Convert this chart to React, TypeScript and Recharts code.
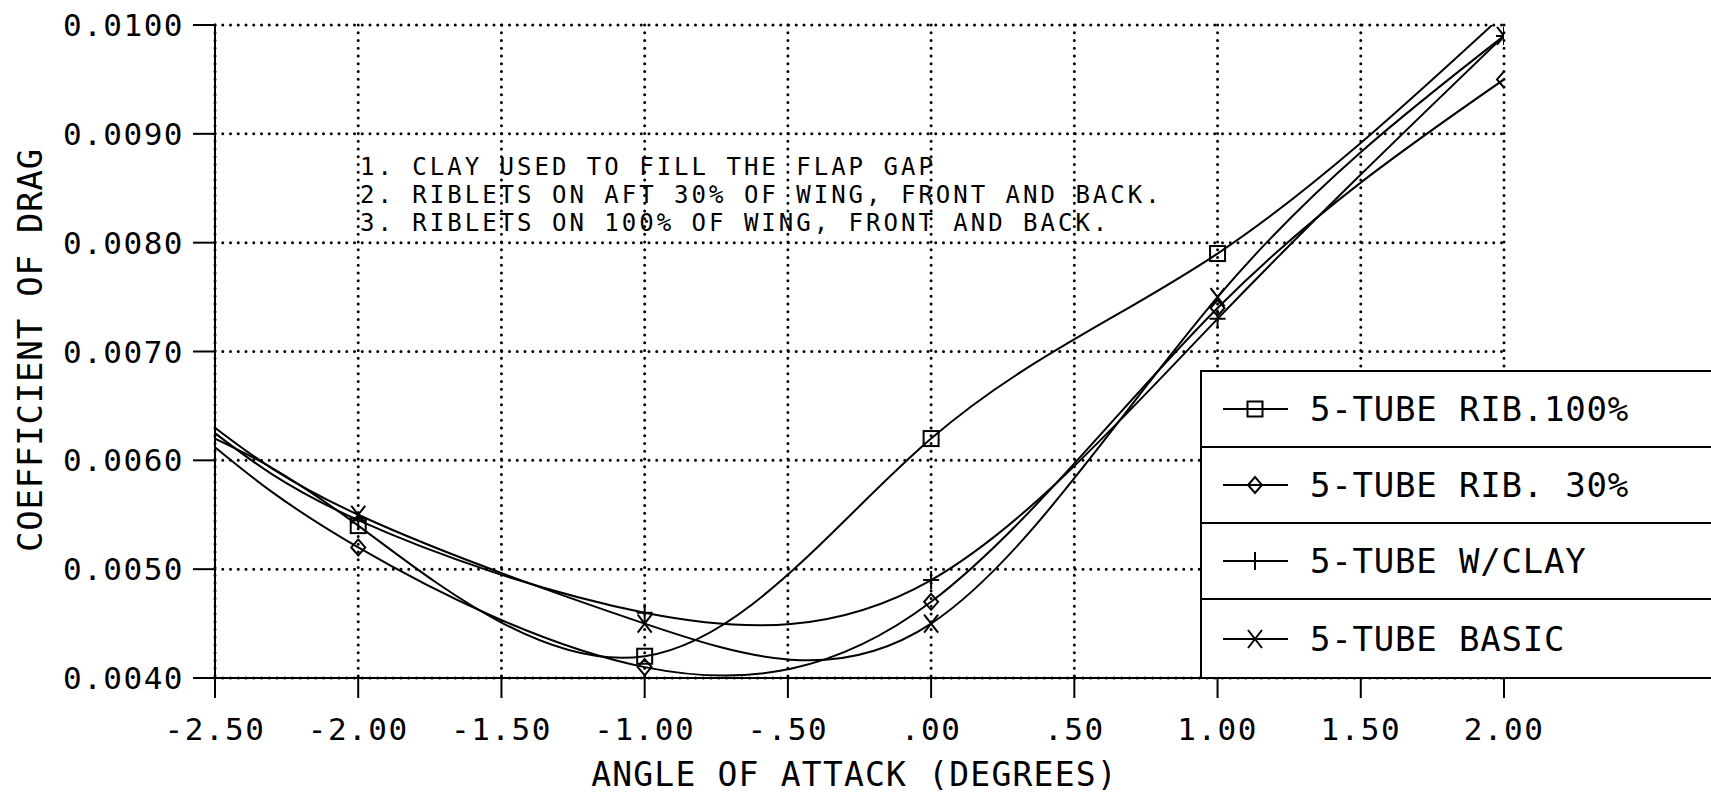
import React from 'react';
import { LineChart, Line, XAxis, YAxis, CartesianGrid } from 'recharts';

const angles = [-2.5, -2, -1, 0, 1, 2];
const rib100 = [0.0062, 0.0054, 0.0042, 0.0062, 0.0079, 0.0101];
const rib30 = [0.00612, 0.0052, 0.0041, 0.0047, 0.0074, 0.0095];
const clay = [0.00625, 0.00545, 0.0046, 0.0049, 0.0073, 0.0099];
const basic = [0.0063, 0.0055, 0.0045, 0.0045, 0.0075, 0.0099];

const xTicks = [-2.5, -2, -1.5, -1, -0.5, 0, 0.5, 1, 1.5, 2];
const xTickLabels = ['-2.50', '-2.00', '-1.50', '-1.00', '-.50', '.00', '.50', '1.00', '1.50', '2.00'];
const yTicks = [0.004, 0.005, 0.006, 0.007, 0.008, 0.009, 0.01];
const yTickLabels = ['0.0040', '0.0050', '0.0060', '0.0070', '0.0080', '0.0090', '0.0100'];

const seriesKeys = ['rib100', 'rib30', 'clay', 'basic'];
const seriesNames = ['5-TUBE RIB.100%', '5-TUBE RIB. 30%', '5-TUBE W/CLAY', '5-TUBE BASIC'];
const notes = [
  '1. CLAY USED TO FILL THE FLAP GAP',
  '2. RIBLETS ON AFT 30% OF WING, FRONT AND BACK.',
  '3. RIBLETS ON 100% OF WING, FRONT AND BACK.',
];
const xTitle = 'ANGLE OF ATTACK (DEGREES)';
const yTitle = 'COEFFICIENT OF DRAG';

const data = angles.map((x, i) => ({
  x,
  rib100: rib100[i],
  rib30: rib30[i],
  clay: clay[i],
  basic: basic[i],
}));

const W = 1711;
const H = 795;
const FONT = '"DejaVu Sans Mono", monospace';

type Shape = 'square' | 'diamond' | 'plus' | 'cross';
const shapes: Shape[] = ['square', 'diamond', 'plus', 'cross'];

function Marker({ shape, cx, cy }: { shape: Shape; cx: number; cy: number }) {
  const s = { stroke: '#000', strokeWidth: 2, fill: 'none' };
  if (shape === 'square') return <rect x={cx - 7.5} y={cy - 7.5} width={15} height={15} {...s} />;
  if (shape === 'diamond')
    return <path d={`M${cx},${cy - 8} L${cx + 7},${cy} L${cx},${cy + 8} L${cx - 7},${cy} Z`} {...s} />;
  if (shape === 'plus')
    return <path d={`M${cx - 8},${cy} L${cx + 8},${cy} M${cx},${cy - 9} L${cx},${cy + 9}`} {...s} />;
  return <path d={`M${cx - 7},${cy - 9} L${cx + 7},${cy + 9} M${cx + 7},${cy - 9} L${cx - 7},${cy + 9}`} {...s} />;
}

const makeDot = (shape: Shape) => (props: any) => {
  const { cx, cy, payload, value, index } = props;
  const key = `${shape}-${index}`;
  if (payload.x === -2.5 || value > 0.01 || cx == null || cy == null) return <g key={key} />;
  return (
    <g key={key}>
      <Marker shape={shape} cx={cx} cy={cy} />
    </g>
  );
};

const XTick = (props: any) => {
  const { x, payload } = props;
  const i = xTicks.indexOf(payload.value);
  return (
    <text x={x} y={740} textAnchor="middle" fontFamily={FONT} fontSize={31} letterSpacing={1.5} fill="#000">
      {xTickLabels[i]}
    </text>
  );
};

const YTick = (props: any) => {
  const { y, payload } = props;
  const i = yTicks.findIndex((t) => Math.abs(t - payload.value) < 1e-9);
  return (
    <text x={184} y={y + 11} textAnchor="end" fontFamily={FONT} fontSize={31} letterSpacing={1.5} fill="#000">
      {yTickLabels[i]}
    </text>
  );
};

export default function App() {
  return (
    <div style={{ position: 'absolute', left: 0, top: 0, width: W, height: H, background: '#fff', overflow: 'hidden' }}>
      <LineChart width={W} height={H} data={data} margin={{ top: 25, right: 207, bottom: 0, left: 0 }}>
        <CartesianGrid stroke="#000" strokeWidth={3} strokeDasharray="0 7.75" strokeLinecap="round" />
        <XAxis
          type="number"
          dataKey="x"
          domain={[-2.5, 2]}
          ticks={xTicks}
          interval={0}
          height={117}
          tickSize={20}
          allowDataOverflow
          axisLine={{ stroke: '#000', strokeWidth: 2 }}
          tickLine={{ stroke: '#000', strokeWidth: 2 }}
          tick={<XTick />}
          label={(p: any) => {
            const vb = p.viewBox || { x: 215, width: 1289 };
            return (
              <text
                x={vb.x + vb.width / 2 - 5}
                y={786}
                textAnchor="middle"
                fontFamily={FONT}
                fontSize={33}
                letterSpacing={1.2}
                fill="#000"
              >
                {xTitle}
              </text>
            );
          }}
        />
        <YAxis
          type="number"
          domain={[0.004, 0.01]}
          ticks={yTicks}
          interval={0}
          width={215}
          tickSize={22}
          allowDataOverflow
          axisLine={{ stroke: '#000', strokeWidth: 2 }}
          tickLine={{ stroke: '#000', strokeWidth: 2 }}
          tick={<YTick />}
          label={() => (
            <text
              x={0}
              y={0}
              transform="translate(42, 350) rotate(-90)"
              textAnchor="middle"
              fontFamily={FONT}
              fontSize={34}
              letterSpacing={0.8}
              fill="#000"
            >
              {yTitle}
            </text>
          )}
        />
        {seriesKeys.map((k, i) => (
          <Line
            key={k}
            type="natural"
            dataKey={k}
            name={seriesNames[i]}
            stroke="#000"
            strokeWidth={2}
            dot={makeDot(shapes[i])}
            activeDot={false}
            isAnimationActive={false}
          />
        ))}
      </LineChart>

      <div
        style={{
          position: 'absolute',
          left: 360,
          top: 153,
          fontFamily: FONT,
          fontSize: 24,
          letterSpacing: 3,
          lineHeight: '28px',
          whiteSpace: 'pre',
          color: '#000',
        }}
      >
        {notes.map((n) => (
          <div key={n}>{n}</div>
        ))}
      </div>

      <div
        style={{
          position: 'absolute',
          left: 1200,
          top: 370,
          width: 520,
          height: 309,
          background: '#fff',
          borderLeft: '2px solid #000',
          borderTop: '2px solid #000',
          borderBottom: '2px solid #000',
          boxSizing: 'border-box',
        }}
      >
        {seriesNames.map((n, i) => (
          <div
            key={n}
            style={{
              height: i < 3 ? 76 : 77,
              borderBottom: i < 3 ? '2px solid #000' : 'none',
              display: 'flex',
              alignItems: 'center',
              boxSizing: 'border-box',
            }}
          >
            <svg width={108} height={40} style={{ flex: 'none' }}>
              <line x1={21} y1={20} x2={86} y2={20} stroke="#000" strokeWidth={2} />
              <Marker shape={shapes[i]} cx={53} cy={20} />
            </svg>
            <span
              style={{
                fontFamily: FONT,
                fontSize: 34,
                letterSpacing: 0.8,
                whiteSpace: 'pre',
                color: '#000',
              }}
            >
              {n}
            </span>
          </div>
        ))}
      </div>
    </div>
  );
}
